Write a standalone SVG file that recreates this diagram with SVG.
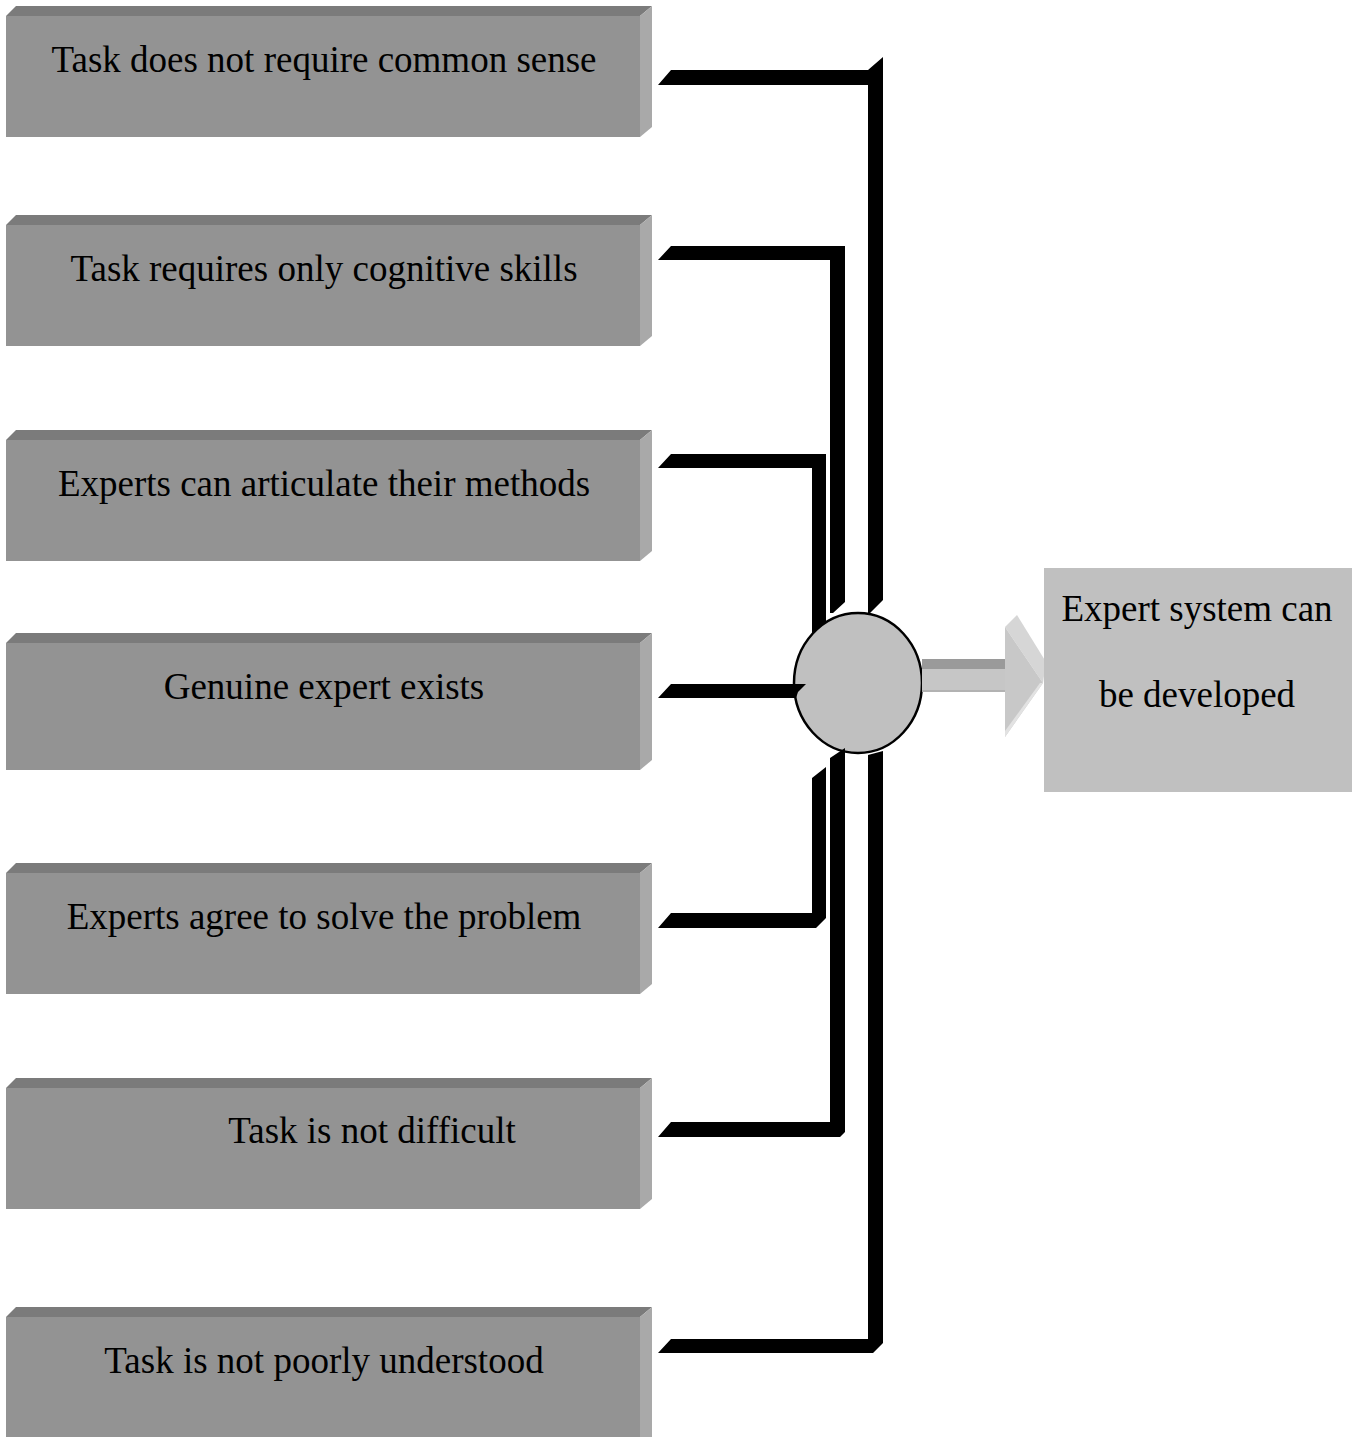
<svg xmlns="http://www.w3.org/2000/svg" width="1361" height="1437" viewBox="0 0 1361 1437">
<style>
.front{fill:#939393}
.top{fill:#7b7b7b}
.side{fill:#a9a9a9}
.lbl{font-family:"Liberation Serif","Times New Roman",serif;font-size:37px;fill:#000;text-anchor:middle}
.conn{fill:#000}
</style>
<rect width="1361" height="1437" fill="#fff"/>
<g id="box1">
<polygon class="top" points="6,16 16,6 652,6 640,16"/>
<polygon class="side" points="640,16 652,6 652,127 640,137"/>
<rect class="front" x="6" y="16" width="634" height="121"/>
<text class="lbl" x="324" y="72">Task does not require common sense</text>
</g>
<g id="box2">
<polygon class="top" points="6,225 16,215 652,215 640,225"/>
<polygon class="side" points="640,225 652,215 652,336 640,346"/>
<rect class="front" x="6" y="225" width="634" height="121"/>
<text class="lbl" x="324" y="281">Task requires only cognitive skills</text>
</g>
<g id="box3">
<polygon class="top" points="6,440 16,430 652,430 640,440"/>
<polygon class="side" points="640,440 652,430 652,551 640,561"/>
<rect class="front" x="6" y="440" width="634" height="121"/>
<text class="lbl" x="324" y="496">Experts can articulate their methods</text>
</g>
<g id="box4">
<polygon class="top" points="6,643 16,633 652,633 640,643"/>
<polygon class="side" points="640,643 652,633 652,760 640,770"/>
<rect class="front" x="6" y="643" width="634" height="127"/>
<text class="lbl" x="324" y="699">Genuine expert exists</text>
</g>
<g id="box5">
<polygon class="top" points="6,873 16,863 652,863 640,873"/>
<polygon class="side" points="640,873 652,863 652,984 640,994"/>
<rect class="front" x="6" y="873" width="634" height="121"/>
<text class="lbl" x="324" y="929">Experts agree to solve the problem</text>
</g>
<g id="box6">
<polygon class="top" points="6,1088 16,1078 652,1078 640,1088"/>
<polygon class="side" points="640,1088 652,1078 652,1199 640,1209"/>
<rect class="front" x="6" y="1088" width="634" height="121"/>
<text class="lbl" x="372" y="1143">Task is not difficult</text>
</g>
<g id="box7">
<polygon class="top" points="6,1317 16,1307 652,1307 640,1317"/>
<polygon class="side" points="640,1317 652,1307 652,1437 640,1437"/>
<rect class="front" x="6" y="1317" width="634" height="121"/>
<text class="lbl" x="324" y="1373">Task is not poorly understood</text>
</g>
<g id="junction">
<ellipse cx="858" cy="683" rx="64" ry="70" fill="#c0c0c0" stroke="#000" stroke-width="2.5"/>
</g>
<g id="arrow">
<rect x="922" y="659" width="84" height="10" fill="#9a9a9a"/>
<rect x="922" y="669" width="84" height="21" fill="#c6c6c6"/>
<rect x="922" y="690" width="84" height="2" fill="#b2b2b2"/>
<polygon points="1005,627 1017,615 1046,662 1043,683" fill="#d6d6d6"/>
<polygon points="1005,627 1043,683 1005,737" fill="#c8c8c8"/>
<polygon points="1043,683 1005,737 1005,731 1040,683" fill="#e2e2e2"/>
</g>
<g id="result">
<rect x="1044" y="568" width="308" height="224" fill="#c0c0c0"/>
<text class="lbl" x="1197" y="621">Expert system can</text>
<text class="lbl" x="1197" y="707">be developed</text>
</g>
<g id="connectors">
<polygon class="conn" points="658,85 671,70 868,70 883,57 883,600 870,613 868,613 868,85"/>
<polygon class="conn" points="658,260 671,246 845,246 845,602 833,613 830,613 830,260"/>
<polygon class="conn" points="658,468 671,454 826,454 826,622 812,634 812,468"/>
<polygon class="conn" points="658,698 671,684 806,684 798,692 796,698"/>
<polygon class="conn" points="658,928 671,913 812,913 812,778 826,767 826,918 816,928"/>
<polygon class="conn" points="658,1137 671,1122 830,1122 830,758 845,748 845,1132 840,1137"/>
<polygon class="conn" points="658,1353 671,1339 868,1339 868,755 883,751 883,1343 873,1353"/>
</g>
</svg>
